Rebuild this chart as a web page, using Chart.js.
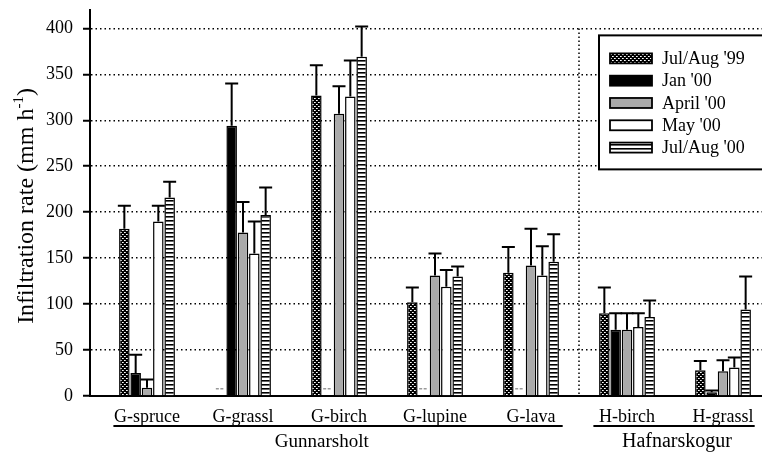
<!DOCTYPE html>
<html><head><meta charset="utf-8">
<script src="https://cdn.jsdelivr.net/npm/chart.js@4.4.0/dist/chart.umd.min.js"></script>
<style>html,body{margin:0;padding:0;background:#fff;}#wrap{width:762px;height:454px;position:relative;}</style>
</head><body><div id="wrap"><canvas id="c" width="762" height="454"></canvas></div>
<script>
const categories = ['G-spruce','G-grassl','G-birch','G-lupine','G-lava','H-birch','H-grassl'];
const seriesLabels = ["Jul/Aug '99","Jan '00","April '00","May '00","Jul/Aug '00"];
const julAug99    = [182, null, 327, 102, 134, 90, 28];
const julAug99Err = [25, null, 33, 16, 28, 28, 10];
const jan00       = [25, 294, null, null, null, 72, 4];
const jan00Err    = [20, 46, null, null, null, 18, 2];
const april00     = [9, 178, 307, 131, 142, 72, 27];
const april00Err  = [9, 33, 30, 24, 40, 18, 12];
const may00       = [190, 155, 326, 119, 131, 75, 31];
const may00Err    = [17, 35, 39, 18, 32, 15, 11];
const julAug00    = [216, 197, 369, 130, 146, 86, 94];
const julAug00Err = [17, 30, 33, 11, 30, 18, 36];
const yTicks = [0, 50, 100, 150, 200, 250, 300, 350, 400];
const siteGroups = ['Gunnarsholt', 'Hafnarskogur'];
const siteGroupFirst = [0, 5];
const siteGroupLast = [4, 6];

const FONT = 'Liberation Serif';

function dotPattern() {
  const c = document.createElement('canvas'); c.width = 4; c.height = 4;
  const g = c.getContext('2d');
  g.fillStyle = '#000'; g.fillRect(0, 0, 4, 4);
  g.fillStyle = '#fff'; g.fillRect(0, 0, 1, 1); g.fillRect(2, 2, 1, 1);
  g.fillStyle = '#bbb'; g.fillRect(1, 0, 1, 1); g.fillRect(3, 2, 1, 1);
  return g.createPattern(c, 'repeat');
}
function stripePattern() {
  const c = document.createElement('canvas'); c.width = 4; c.height = 4;
  const g = c.getContext('2d');
  g.fillStyle = '#fff'; g.fillRect(0, 0, 4, 4);
  g.fillStyle = '#000'; g.fillRect(0, 0, 4, 1);
  g.fillStyle = '#666'; g.fillRect(0, 1, 4, 1);
  return g.createPattern(c, 'repeat');
}
const pctx = document.getElementById('c').getContext('2d');
const fills = [dotPattern(), '#000', '#aaaaaa', '#fff', stripePattern()];
const values = [julAug99, jan00, april00, may00, julAug00];
const errors = [julAug99Err, jan00Err, april00Err, may00Err, julAug00Err];

const datasets = values.map((arr, k) => ({
  label: seriesLabels[k],
  data: arr.map((v, i) => ({ x: i, y: v })),
  errors: errors[k],
  backgroundColor: fills[k],
  borderColor: '#000',
  borderWidth: 1.5
}));

const overlay = {
  id: 'overlay',
  afterDatasetsDraw(chart) {
    const { ctx, scales: { y } } = chart;
    ctx.save();
    chart.data.datasets.forEach((ds, di) => {
      const meta = chart.getDatasetMeta(di);
      meta.data.forEach((bar, i) => {
        const v = ds.data[i].y, e = ds.errors[i];
        if (v == null) {
          if (isFinite(bar.x)) {
            ctx.strokeStyle = '#999'; ctx.lineWidth = 1.5; ctx.setLineDash([3, 1.5]);
            const yy = y.getPixelForValue(8);
            ctx.beginPath(); ctx.moveTo(bar.x - 4.5, yy); ctx.lineTo(bar.x + 4.5, yy); ctx.stroke();
            ctx.setLineDash([]);
          }
          return;
        }
        if (e == null) return;
        const yTop = y.getPixelForValue(v + e);
        ctx.strokeStyle = '#000'; ctx.lineWidth = 2;
        ctx.beginPath();
        ctx.moveTo(bar.x, bar.y); ctx.lineTo(bar.x, yTop);
        ctx.moveTo(bar.x - 6.5, yTop); ctx.lineTo(bar.x + 6.5, yTop);
        ctx.stroke();
      });
    });
    ctx.restore();
  },
  afterDraw(chart) {
    const { ctx, chartArea: ca, scales: { x, y } } = chart;
    ctx.save();
    // separator between sites
    ctx.strokeStyle = '#000'; ctx.lineWidth = 1.5; ctx.setLineDash([1.5, 2.5]);
    const sx = x.getPixelForValue((siteGroupLast[0] + siteGroupFirst[1]) / 2);
    ctx.beginPath(); ctx.moveTo(sx, y.getPixelForValue(400)); ctx.lineTo(sx, y.getPixelForValue(0)); ctx.stroke();
    ctx.setLineDash([]);

    // legend
    const lx = ca.right - 163, ly = y.getPixelForValue(400) + 7;
    ctx.fillStyle = '#fff'; ctx.fillRect(lx, ly, 180, 134);
    ctx.strokeStyle = '#000'; ctx.lineWidth = 2; ctx.strokeRect(lx, ly, 180, 134);
    ctx.font = '18px "' + FONT + '"'; ctx.textBaseline = 'middle'; ctx.textAlign = 'left';
    chart.data.datasets.forEach((ds, k) => {
      const cy = ly + 23 + k * 22.3;
      ctx.fillStyle = ds.backgroundColor;
      ctx.fillRect(lx + 11, cy - 5, 42, 10);
      ctx.strokeStyle = '#000'; ctx.lineWidth = 1.8;
      ctx.strokeRect(lx + 11, cy - 5, 42, 10);
      ctx.fillStyle = '#000';
      ctx.fillText(ds.label, lx + 63, cy + 1);
    });

    // site group underlines and names
    ctx.strokeStyle = '#000'; ctx.lineWidth = 2;
    ctx.textAlign = 'center'; ctx.fillStyle = '#000';
    siteGroups.forEach((name, g) => {
      const a = x.getPixelForValue(siteGroupFirst[g] - 0.35);
      const b = Math.min(x.getPixelForValue(siteGroupLast[g] + 0.33), ca.right - 6);
      ctx.beginPath(); ctx.moveTo(a, 426); ctx.lineTo(b, 426); ctx.stroke();
      const shift = g === 0 ? -0.18 : 0.02;
      ctx.font = (g === 0 ? 19 : 20) + 'px "' + FONT + '"';
      ctx.fillText(name, x.getPixelForValue((siteGroupFirst[g] + siteGroupLast[g]) / 2 + shift), 442);
    });

    // y axis title with superscript
    ctx.translate(25, 206);
    ctx.rotate(-Math.PI / 2);
    const big = '24px "' + FONT + '"', small = '15px "' + FONT + '"';
    const p1 = 'Infiltration rate (mm h', p2 = '-1', p3 = ')';
    ctx.font = big; const w1 = ctx.measureText(p1).width, w3 = ctx.measureText(p3).width;
    ctx.font = small; const w2 = ctx.measureText(p2).width;
    let tx = -(w1 + w2 + w3) / 2;
    ctx.textAlign = 'left'; ctx.textBaseline = 'alphabetic';
    ctx.font = big; ctx.fillText(p1, tx, 8); tx += w1;
    ctx.font = small; ctx.fillText(p2, tx, -2); tx += w2;
    ctx.font = big; ctx.fillText(p3, tx, 8);
    ctx.restore();
  }
};

new Chart(pctx, {
  type: 'bar',
  data: { datasets },
  options: {
    responsive: false, animation: false, devicePixelRatio: 1,
    layout: { padding: { top: 10, right: 0, left: 0, bottom: 0 } },
    plugins: { legend: { display: false }, tooltip: { enabled: false } },
    datasets: { bar: { categoryPercentage: 0.59, barPercentage: 0.93 } },
    scales: {
      x: {
        type: 'linear', min: -0.59375, max: 6.40625, offset: false,
        grid: { display: false, drawTicks: false, offset: false },
        border: { display: true, color: '#000', width: 2 },
        afterBuildTicks: s => { s.ticks = categories.map((_, i) => ({ value: i })); },
        afterFit: s => { s.height = 58; s.paddingLeft = 0; s.paddingRight = 0; },
        ticks: { autoSkip: false, maxRotation: 0, padding: 10, color: '#000',
          font: { family: FONT, size: 18 }, callback: v => categories[v] }
      },
      y: {
        min: 0, max: 420,
        afterBuildTicks: s => { s.ticks = yTicks.map(v => ({ value: v })); },
        afterFit: s => { s.width = 90; s.paddingTop = 0; s.paddingBottom = 0; },
        grid: { color: c => (c.tick && c.tick.value === 0) ? 'rgba(0,0,0,0)' : '#000',
          lineWidth: 1.5, tickLength: 7, tickColor: '#000', tickWidth: 2, tickBorderDash: [] },
        border: { display: true, color: '#000', width: 2, dash: [1.5, 3] },
        ticks: { padding: 10, color: '#000', font: { family: FONT, size: 18 } }
      }
    }
  },
  plugins: [overlay]
});
</script></body></html>
